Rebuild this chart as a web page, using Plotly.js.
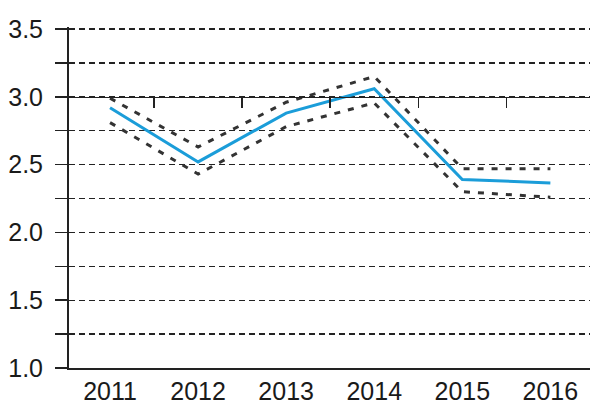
<!DOCTYPE html>
<html>
<head>
<meta charset="utf-8">
<script src="https://cdn.plot.ly/plotly-3.0.1.min.js"></script>
<style>html,body{margin:0;padding:0;background:#fff;}#chart{width:595px;height:408px;}</style>
</head>
<body>
<div id="chart"></div>
<script>
const years = ['2011', '2012', '2013', '2014', '2015', '2016'];
const central = [2.92, 2.52, 2.88, 3.06, 2.39, 2.365];
const upper = [2.99, 2.63, 2.96, 3.15, 2.47, 2.47];
const lower = [2.81, 2.43, 2.78, 2.955, 2.30, 2.26];
const yTickVals = [1.0, 1.25, 1.5, 1.75, 2.0, 2.25, 2.5, 2.75, 3.0, 3.25, 3.5];
const yTickText = ['1.0', '', '1.5', '', '2.0', '', '2.5', '', '3.0', '', '3.5'];

const dashStyle = {color: '#333', width: 3, dash: '6px,8px'};
const traces = [
  {x: years, y: upper, type: 'scatter', mode: 'lines', line: dashStyle, xaxis: 'x', yaxis: 'y', hoverinfo: 'skip'},
  {x: years, y: lower, type: 'scatter', mode: 'lines', line: dashStyle, xaxis: 'x', yaxis: 'y', hoverinfo: 'skip'},
  {x: years, y: central, type: 'scatter', mode: 'lines', line: {color: '#1b9dd9', width: 3}, xaxis: 'x2', yaxis: 'y', hoverinfo: 'skip'}
];

const yMin = 1.0, yMax = 3.515;
const xRange = [-0.466, 5.45];
const layout = {
  width: 595, height: 408,
  margin: {l: 69, r: 5, t: 27, b: 40},
  paper_bgcolor: '#fff', plot_bgcolor: '#fff',
  showlegend: false,
  font: {family: 'Liberation Sans, Arial, sans-serif', color: '#1a1a1a', size: 25},
  xaxis: {
    type: 'category', range: xRange, showgrid: false, zeroline: false,
    showline: true, linecolor: '#222', linewidth: 2, ticks: '',
    tickfont: {size: 25, color: '#1a1a1a'}, ticklabelstandoff: 0, fixedrange: true
  },
  xaxis2: {
    type: 'category', range: xRange, overlaying: 'x', anchor: 'free',
    position: (3.0 - yMin) / (yMax - yMin), side: 'bottom',
    showgrid: false, zeroline: false, showline: true, linecolor: '#222', linewidth: 1.5,
    ticks: 'outside', tickson: 'boundaries', ticklen: 10, tickwidth: 1.5, tickcolor: '#222',
    showticklabels: false, fixedrange: true
  },
  yaxis: {
    range: [yMin, yMax], tickmode: 'array', tickvals: yTickVals, ticktext: yTickText,
    showline: true, linecolor: '#222', linewidth: 2, zeroline: false,
    ticks: 'outside', ticklen: 12, tickwidth: 1.5, tickcolor: '#222',
    showgrid: true, gridcolor: '#222', gridwidth: 1.3, griddash: '6px,4px',
    tickfont: {size: 25, color: '#1a1a1a'}, ticklabelstandoff: 7, fixedrange: true
  }
};
Plotly.newPlot('chart', traces, layout, {displayModeBar: false, staticPlot: true});
</script>
</body>
</html>
